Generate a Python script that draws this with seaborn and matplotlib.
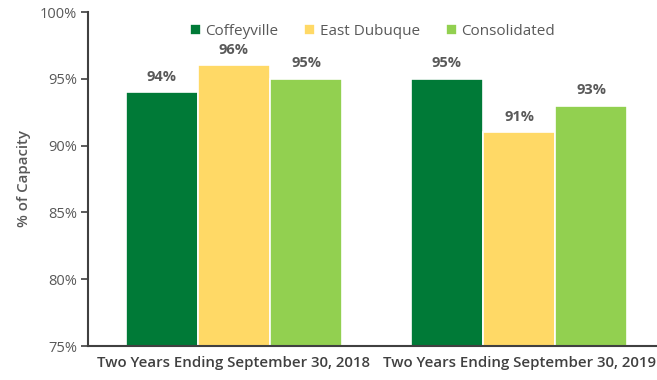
import matplotlib
matplotlib.use("Agg")
import matplotlib.pyplot as plt
import seaborn as sns
import pandas as pd
from matplotlib.ticker import FuncFormatter

periods = ["Two Years Ending September 30, 2018", "Two Years Ending September 30, 2019"]
facilities = ["Coffeyville", "East Dubuque", "Consolidated"]
coffeyville = [94, 95]
east_dubuque = [96, 91]
consolidated = [95, 93]
palette = ["#007A37", "#FFD966", "#92D050"]

rows = []
for fac, vals in zip(facilities, [coffeyville, east_dubuque, consolidated]):
    for p, v in zip(periods, vals):
        rows.append({"period": p, "facility": fac, "value": v})
df = pd.DataFrame(rows)

sns.set_theme(style="white")
plt.rcParams["font.family"] = ["Open Sans", "DejaVu Sans"]

fig = plt.figure(figsize=(6.57, 3.80), dpi=100)
ax = fig.add_axes([88 / 657, 1 - 346 / 380, 1 - 88 / 657, (346 - 12) / 380])

sns.barplot(data=df, x="period", y="value", hue="facility", order=periods,
            hue_order=facilities, palette=palette, width=0.76, saturation=1,
            edgecolor="white", linewidth=1.2, ax=ax)

ax.set_ylim(75, 100)
ax.set_xlim(-0.512, 1.484)
ax.set_yticks([75, 80, 85, 90, 95, 100])
ax.yaxis.set_major_formatter(FuncFormatter(lambda v, _: f"{v:.0f}%"))
ax.tick_params(axis="y", labelsize=10.5, labelcolor="#595959", length=5, width=1.2,
               color="#404040", direction="out", left=True, pad=3)
ax.tick_params(axis="x", labelsize=10.8, labelcolor="#404040", length=0, pad=7)
for lbl in ax.get_xticklabels():
    lbl.set_fontweight("semibold")

ax.set_xlabel("")
ax.set_ylabel("% of Capacity", fontsize=10.8, color="#595959", fontweight="semibold", labelpad=6)

for side in ["top", "right"]:
    ax.spines[side].set_visible(False)
for side in ["left", "bottom"]:
    ax.spines[side].set_color("#404040")
    ax.spines[side].set_linewidth(1.5)

for container in ax.containers:
    ax.bar_label(container, labels=[f"{v:.0f}%" for v in container.datavalues],
                 padding=6, fontsize=10.5, color="#595959", fontweight="bold")

ax.legend(loc="upper center", bbox_to_anchor=(0.5, 1.005), ncol=3, frameon=False,
          fontsize=11, labelcolor="#595959", handlelength=0.7, handleheight=0.7,
          handletextpad=0.3, columnspacing=1.7)

fig.savefig("out.png", dpi=100)
